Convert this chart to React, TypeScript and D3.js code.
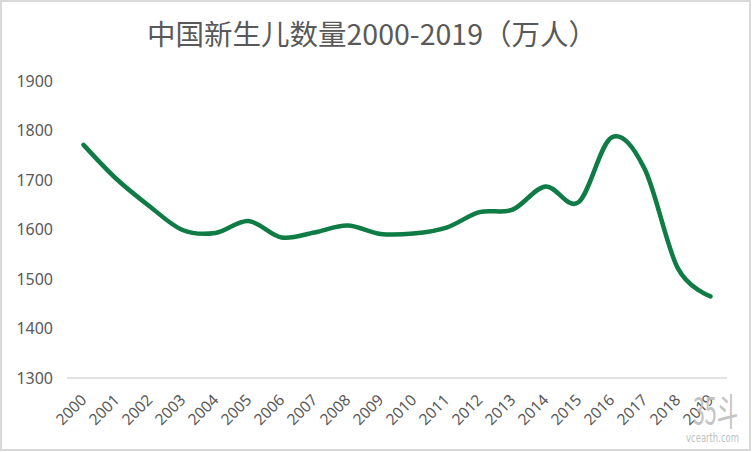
import { useEffect, useRef } from 'react';
import * as d3 from 'd3';

const years = [
  '2000', '2001', '2002', '2003', '2004', '2005', '2006', '2007', '2008', '2009',
  '2010', '2011', '2012', '2013', '2014', '2015', '2016', '2017', '2018', '2019',
];
const births = [
  1771, 1702, 1647, 1599, 1593, 1617, 1584, 1594, 1608, 1591,
  1592, 1604, 1635, 1640, 1687, 1655, 1786, 1723, 1523, 1465,
];
const yTicks = [1300, 1400, 1500, 1600, 1700, 1800, 1900];
const title = '中国新生儿数量2000-2019（万人）';

const width = 752;
const height = 452;

export default function App() {
  const svgRef = useRef<SVGSVGElement>(null);

  useEffect(() => {
    if (!svgRef.current) return;
    const svg = d3.select(svgRef.current);
    svg.selectAll('*').remove();

    const font = '"Noto Sans", "Noto Sans CJK SC", sans-serif';
    const textColor = '#595959';

    // background + frame
    svg.append('rect')
      .attr('x', 1)
      .attr('y', 1)
      .attr('width', width - 3)
      .attr('height', height - 3)
      .attr('fill', 'white')
      .attr('stroke', '#d9d9d9')
      .attr('stroke-width', 2);

    const xScale = d3.scaleBand<string>()
      .domain(years)
      .range([67, 727]);
    const cx = (d: string) => (xScale(d) ?? 0) + xScale.bandwidth() / 2;

    const yScale = d3.scaleLinear()
      .domain([1300, 1900])
      .range([378, 81]);

    // title
    svg.append('text')
      .attr('x', 372)
      .attr('y', 45)
      .attr('text-anchor', 'middle')
      .attr('font-family', '"Noto Sans CJK SC", sans-serif')
      .attr('font-size', '28.5px')
      .attr('fill', textColor)
      .text(title);

    // y labels
    svg.append('g')
      .selectAll('text')
      .data(yTicks)
      .join('text')
      .attr('x', 53)
      .attr('y', (d) => yScale(d))
      .attr('dy', '0.35em')
      .attr('text-anchor', 'end')
      .attr('font-family', font)
      .attr('font-size', '16px')
      .attr('fill', textColor)
      .text((d) => d);

    // baseline
    svg.append('line')
      .attr('x1', 67)
      .attr('x2', 727)
      .attr('y1', yScale(1300))
      .attr('y2', yScale(1300))
      .attr('stroke', '#d9d9d9')
      .attr('stroke-width', 1.5);

    // x labels
    svg.append('g')
      .selectAll('text')
      .data(years)
      .join('text')
      .attr('transform', (d) => `translate(${cx(d) + 4},${yScale(1300) + 23}) rotate(-45)`)
      .attr('text-anchor', 'end')
      .attr('font-family', font)
      .attr('font-size', '15.5px')
      .attr('fill', textColor)
      .text((d) => d);

    // line
    const line = d3.line<number>()
      .x((_, i) => cx(years[i]))
      .y((d) => yScale(d))
      .curve(d3.curveCardinal.tension(0));

    svg.append('path')
      .datum(births)
      .attr('d', line)
      .attr('fill', 'none')
      .attr('stroke', '#0f7b45')
      .attr('stroke-width', 4.5)
      .attr('stroke-linecap', 'round')
      .attr('stroke-linejoin', 'round');

    // watermark
    svg.append('text')
      .attr('x', 693)
      .attr('y', 425)
      .attr('textLength', 45)
      .attr('lengthAdjust', 'spacingAndGlyphs')
      .attr('font-family', '"Noto Sans CJK SC", sans-serif')
      .attr('font-size', '38px')
      .attr('fill', '#bdbdbd')
      .attr('opacity', 0.9)
      .text('35斗');

    svg.append('text')
      .attr('x', 686)
      .attr('y', 442)
      .attr('textLength', 53)
      .attr('lengthAdjust', 'spacingAndGlyphs')
      .attr('font-family', '"Liberation Sans Narrow", "DejaVu Sans Condensed", sans-serif')
      .attr('font-size', '12px')
      .attr('fill', '#c0c0c0')
      .text('vcearth.com');
  }, []);

  return (
    <svg
      ref={svgRef}
      width={width}
      height={height}
      style={{ position: 'absolute', left: 0, top: 0 }}
    />
  );
}
